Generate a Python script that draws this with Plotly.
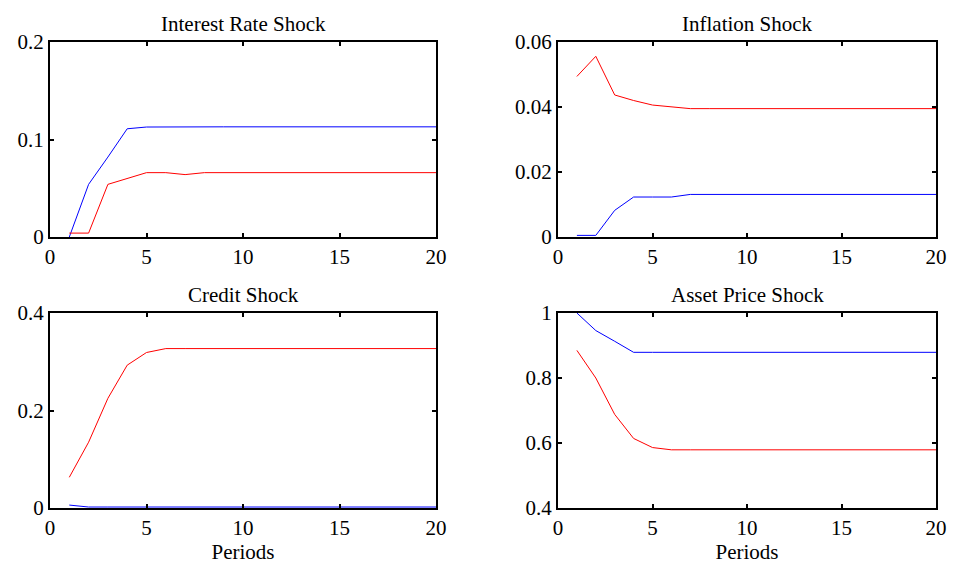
import plotly.graph_objects as go

periods = list(range(1, 21))

ir_blue = [0.0, 0.054, 0.082, 0.111, 0.1128] + [0.113] * 15
ir_red = [0.004, 0.004, 0.054, 0.060, 0.066, 0.066, 0.064] + [0.066] * 13

inf_red = [0.0494, 0.0556, 0.0437, 0.0420, 0.0406, 0.0401] + [0.0395] * 14
inf_blue = [0.0005, 0.0005, 0.0082, 0.0123, 0.0123, 0.0123] + [0.0131] * 14

cr_red = [0.063, 0.135, 0.225, 0.293, 0.319] + [0.327] * 15
cr_blue = [0.006] + [0.002] * 19

ap_blue = [1.0, 0.946, 0.913] + [0.879] * 17
ap_red = [0.885, 0.800, 0.688, 0.614, 0.586] + [0.579] * 15

titles = ["Interest Rate Shock", "Inflation Shock", "Credit Shock", "Asset Price Shock"]
y_ranges = [[0, 0.2], [0, 0.06], [0, 0.4], [0.4, 1.0]]
y_ticks = [[0, 0.1, 0.2], [0, 0.02, 0.04, 0.06], [0, 0.2, 0.4], [0.4, 0.6, 0.8, 1.0]]
y_ticktext = [["0", "0.1", "0.2"], ["0", "0.02", "0.04", "0.06"],
              ["0", "0.2", "0.4"], ["0.4", "0.6", "0.8", "1"]]
series = [(ir_blue, ir_red), (inf_blue, inf_red), (cr_blue, cr_red), (ap_blue, ap_red)]

# page body has an 8px margin, so the figure starts at (8, 8) on screen
OFF = 8
W, H = 956 - 2 * OFF, 575 - 2 * OFF
x_doms = [[(50 - OFF) / W, (436 - OFF) / W], [(558 - OFF) / W, (936 - OFF) / W]]
y_doms = [[1 - (237 - OFF) / H, 1 - (42 - OFF) / H],
          [1 - (508 - OFF) / H, 1 - (313 - OFF) / H]]

FONT = "Liberation Serif"
FS = 21
fig = go.Figure()
layout = dict(
    width=W, height=H, margin=dict(l=0, r=0, t=0, b=0, autoexpand=False),
    paper_bgcolor="white", plot_bgcolor="white",
    showlegend=False, font=dict(family=FONT, size=FS, color="black"),
)
annotations = []
for i in range(4):
    r, c = divmod(i, 2)
    sfx = "" if i == 0 else str(i + 1)
    blue, red = series[i]
    fig.add_trace(go.Scatter(x=periods, y=blue, mode="lines",
                             line=dict(color="#0000FF", width=1),
                             xaxis="x" + sfx, yaxis="y" + sfx))
    fig.add_trace(go.Scatter(x=periods, y=red, mode="lines",
                             line=dict(color="#FF0000", width=1),
                             xaxis="x" + sfx, yaxis="y" + sfx))
    common = dict(showline=True, linecolor="black", linewidth=2, mirror="ticks",
                  ticks="inside", ticklen=4, tickwidth=2, tickcolor="black",
                  showgrid=False, zeroline=False, automargin=False,
                  tickfont=dict(family=FONT, size=FS, color="black"))
    layout["xaxis" + sfx] = dict(domain=x_doms[c], range=[0, 20],
                                 tickvals=[0, 5, 10, 15, 20],
                                 anchor="y" + sfx, **common)
    layout["yaxis" + sfx] = dict(domain=y_doms[r], range=y_ranges[i],
                                 tickvals=y_ticks[i], ticktext=y_ticktext[i],
                                 anchor="x" + sfx, **common)
    if r == 1:
        layout["xaxis" + sfx]["title"] = dict(text="Periods", standoff=4,
                                               font=dict(family=FONT, size=FS))
    annotations.append(dict(text=titles[i], x=sum(x_doms[c]) / 2, y=y_doms[r][1],
                            xref="paper", yref="paper", xanchor="center",
                            yanchor="bottom", yshift=4, showarrow=False,
                            font=dict(family=FONT, size=FS, color="black")))
layout["annotations"] = annotations
fig.update_layout(**layout)
fig.write_html("out.html")
